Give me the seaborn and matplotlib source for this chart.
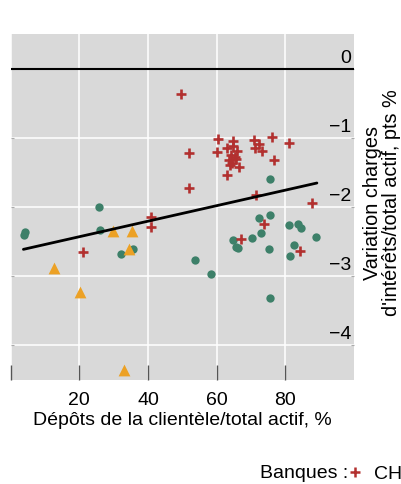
import numpy as np
import pandas as pd
import matplotlib
matplotlib.use("Agg")
import matplotlib.pyplot as plt
from matplotlib.lines import Line2D
import seaborn as sns

# données
ch_x = [49.6, 60.5, 64.8, 52.0, 60.2, 63.1, 66.0, 64.1, 65.3, 63.6, 64.5, 63.8,
        66.5, 62.9, 70.8, 72.3, 71.3, 73.2, 76.1, 81.0, 76.8, 51.8, 71.6, 87.9,
        41.0, 41.0, 21.0, 73.9, 67.2, 84.3, 64.9, 65.5]
ch_y = [-0.36, -1.01, -1.04, -1.22, -1.20, -1.14, -1.19, -1.24, -1.27, -1.31, -1.36, -1.39,
        -1.42, -1.53, -1.03, -1.09, -1.14, -1.19, -0.98, -1.07, -1.32, -1.72, -1.82, -1.94,
        -2.14, -2.28, -2.65, -2.24, -2.46, -2.63, -1.12, -1.30]

green_x = [4.0, 4.3, 25.6, 25.9, 32.0, 35.7, 53.7, 58.3, 64.9, 65.7, 66.3, 70.2,
           72.3, 72.8, 75.4, 75.2, 75.5, 75.4, 81.2, 81.4, 82.4, 83.6, 84.6, 88.9]
green_y = [-2.40, -2.36, -2.00, -2.33, -2.68, -2.60, -2.77, -2.96, -2.47, -2.57, -2.59, -2.45,
           -2.16, -2.37, -2.12, -2.60, -3.32, -1.59, -2.26, -2.71, -2.54, -2.24, -2.30, -2.43]

orange_x = [12.6, 20.2, 29.7, 33.1, 34.4, 35.2]
orange_y = [-2.88, -3.23, -2.34, -4.36, -2.61, -2.35]

fit_x = [3.7, 89.2]
fit_y = [-2.61, -1.65]

x_ticks = [0, 20, 40, 60, 80]
x_ticklabels = ["", "20", "40", "60", "80"]
y_ticks = [0, -1, -2, -3, -4]
y_ticklabels = ["0", "\u22121", "\u22122", "\u22123", "\u22124"]

RED = "#b2302f"
GREEN = "#3d8069"
ORANGE = "#eca125"

sns.set_theme(style="darkgrid", rc={
    "axes.facecolor": "#d9d9d9",
    "grid.color": "white",
    "grid.linewidth": 1.1,
    "text.color": "black",
    "axes.labelcolor": "black",
    "xtick.color": "black",
    "ytick.color": "black",
})
plt.rcParams["font.family"] = ["Liberation Sans", "DejaVu Sans"]
FS = 14

fig = plt.figure(figsize=(4.01, 4.84), dpi=100)
ax = fig.add_axes([0.0267, 0.215, 0.856, 0.7138])

sns.scatterplot(x=green_x, y=green_y, color=GREEN, s=36, linewidth=0, ax=ax, zorder=3)
sns.scatterplot(x=orange_x, y=orange_y, color=ORANGE, marker="^", s=72, linewidth=0,
                ax=ax, zorder=3)
sns.scatterplot(x=ch_x, y=ch_y, color=RED, marker="+", s=60, linewidth=1.9, ax=ax, zorder=4)
sns.lineplot(x=fit_x, y=fit_y, color="black", linewidth=2.0, ax=ax, zorder=5)
ax.axhline(0, color="black", linewidth=1.5, zorder=2)

ax.set_xlim(0, 100)
ax.set_ylim(-4.5, 0.5)
for s in ax.spines.values():
    s.set_visible(False)

ax.set_xticks(x_ticks)
ax.set_xticklabels(x_ticklabels, fontsize=FS)
ax.tick_params(axis="x", direction="in", length=11, width=1.0, color="#555555",
               labelcolor="black", bottom=True, pad=9)
ax.set_yticks(y_ticks)
ax.set_yticklabels([])
ax.tick_params(axis="y", direction="in", length=2, width=0.8, color="#aaaaaa",
               left=True, right=True)

# étiquettes de l'axe y dans le panneau, au-dessus des lignes
for v, lab in zip(y_ticks, y_ticklabels):
    ax.annotate(lab, xy=(1, v), xycoords=("axes fraction", "data"),
                xytext=(-3, 11), textcoords="offset pixels",
                ha="right", va="center", fontsize=FS, color="black")

ax.set_xlabel("Dépôts de la clientèle/total actif, %", fontsize=FS, labelpad=2,
              color="black")
ax.set_ylabel("")

fig.text(363 / 401, 1 - 203 / 484, "Variation charges\nd'intérêts/total actif, pts %",
         rotation=90, ha="left", va="center", multialignment="center",
         fontsize=14.3, linespacing=1.0, color="black")

# légende (coupée à droite comme sur l'original)
fig.text(260 / 401, 1 - 474 / 484, "Banques :", ha="left", va="center", fontsize=FS,
         color="black")
handles = [Line2D([], [], marker="+", color=RED, linestyle="", markersize=7.5,
                  markeredgewidth=1.8)]
fig.legend(handles, ["CH"], loc="center left", bbox_to_anchor=(347 / 401, 1 - 474 / 484),
           frameon=False, fontsize=FS, handlelength=0.8, handletextpad=0.6,
           borderaxespad=0, borderpad=0, labelcolor="black")

fig.savefig("out.png", dpi=100)
